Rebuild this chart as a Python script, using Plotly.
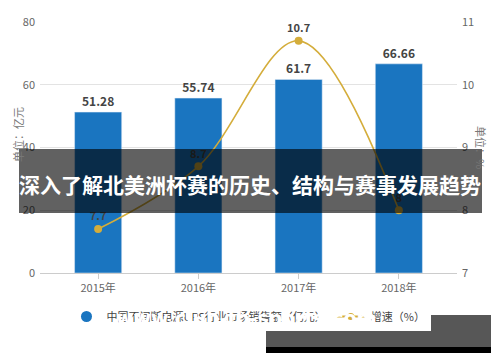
import plotly.graph_objects as go

years = ["2015年", "2016年", "2017年", "2018年"]
sales = [51.28, 55.74, 61.7, 66.66]
growth = [7.7, 8.7, 10.7, 8.0]
growth_labels = ["7.7", "8.7", "10.7", "8"]
sales_name = "中国不间断电源UPS行业市场销售额（亿元）"
growth_name = "增速（%）"
banner_text = "深入了解北美洲杯赛的历史、结构与赛事发展趋势"
site_text = "www.club-fb-sports.com"

W, H = 500, 362
L, R, T, B = 40, 457, 22, 273
FONT = "Noto Sans CJK SC"
BLUE = "#1a75c0"
GOLD = "#d4ad3b"


def px(x):
    return (x - L) / (R - L)


def py(y):
    return (B - y) / (B - T)


fig = go.Figure()
fig.add_trace(go.Bar(
    x=years, y=sales, width=0.47, marker_color=BLUE, showlegend=False,
    text=[f"{v:g}" for v in sales], textposition="outside", cliponaxis=False,
    textfont=dict(family=FONT, size=12, color="#444"),
    texttemplate="<b>%{text}</b>",
))
fig.add_trace(go.Scatter(
    x=years, y=growth, yaxis="y2", mode="lines+markers+text",
    line=dict(color=GOLD, width=1.6, shape="spline", smoothing=1.0),
    marker=dict(color=GOLD, size=8), showlegend=False,
    text=growth_labels, texttemplate="<b>%{text}</b>", textposition="top center",
    textfont=dict(family=FONT, size=11, color="#444"), cliponaxis=False,
))
# legend proxies
fig.add_trace(go.Scatter(x=[None], y=[None], mode="markers", name=sales_name,
                         marker=dict(color=BLUE, size=11, symbol="circle")))
fig.add_trace(go.Scatter(x=[None], y=[None], mode="lines+markers", name=growth_name,
                         line=dict(color=GOLD, width=2), marker=dict(color=GOLD, size=7)))

fig.update_layout(
    width=W, height=H, margin=dict(l=L, r=W - R, t=T, b=H - B),
    paper_bgcolor="white", plot_bgcolor="white",
    font=dict(family=FONT, size=11, color="#666"),
    xaxis=dict(range=[-0.58, 3.58], showgrid=False, showline=True, linecolor="#ccc",
               linewidth=1, ticks="outside", ticklen=5, tickcolor="#ccc",
               tickfont=dict(size=11, color="#666")),
    yaxis=dict(range=[0, 80], dtick=20, showgrid=True, gridcolor="#e3e3e3",
               zeroline=False, tickfont=dict(size=11, color="#666"), ticklabelstandoff=4),
    yaxis2=dict(range=[7, 11], dtick=1, overlaying="y", side="right", showgrid=False,
                zeroline=False, tickfont=dict(size=11, color="#666"), ticklabelstandoff=4),
    legend=dict(orientation="h", x=0.5, xanchor="center", xref="paper",
                y=py(302), yanchor="top", font=dict(size=11, color="#444"),
                itemwidth=30, tracegroupgap=0),
)

shapes = [
    dict(type="rect", xref="paper", yref="paper", x0=px(19), x1=px(482), y0=py(149), y1=py(213),
         fillcolor="rgba(0,0,0,0.62)", line=dict(width=0), layer="above"),
    dict(type="rect", xref="paper", yref="paper", x0=px(266), x1=px(491), y0=py(315), y1=py(347),
         fillcolor="rgba(40,40,40,0.78)", line=dict(width=0), layer="above"),
    dict(type="rect", xref="paper", yref="paper", x0=px(266), x1=px(491), y0=py(347), y1=py(353),
         fillcolor="#000", line=dict(width=0), layer="above"),
]
fig.update_layout(shapes=shapes)

fig.add_annotation(text="单位：亿元", xref="paper", yref="paper", x=px(8), y=py(135),
                   showarrow=False, textangle=-90, font=dict(size=11, color="#777"))
fig.add_annotation(text="单位：%", xref="paper", yref="paper", x=px(491), y=py(147),
                   showarrow=False, textangle=90, font=dict(size=11, color="#777"))
fig.add_annotation(text="<b>" + banner_text + "</b>", xref="paper", yref="paper",
                   x=px(250), y=py(184), showarrow=False,
                   font=dict(size=21, color="white", family=FONT))
fig.add_annotation(text="<b>" + site_text + "</b>", xref="paper", yref="paper",
                   x=px(378), y=py(331), showarrow=False,
                   font=dict(size=19, color="white", family="DejaVu Sans"))

fig.write_html("out.html")
